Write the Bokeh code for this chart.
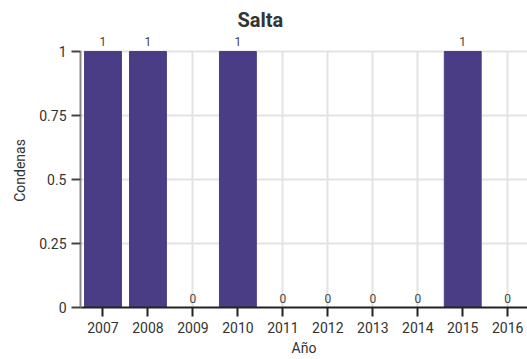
from bokeh.plotting import figure
from bokeh.models import Range1d, FixedTicker, ColumnDataSource, LabelSet
from bokeh.core.properties import value
from bokeh.embed import file_html
from bokeh.resources import INLINE

years = [2007, 2008, 2009, 2010, 2011, 2012, 2013, 2014, 2015, 2016]
condenas = [1, 1, 0, 1, 0, 0, 0, 0, 1, 0]
y_ticks = [0, 0.25, 0.5, 0.75, 1]
y_tick_labels = {0: "0", 0.25: "0.25", 0.5: "0.5", 0.75: "0.75", 1: "1"}

src = ColumnDataSource(dict(x=years, y=condenas, lab=[str(v) for v in condenas]))

p = figure(width=527, height=359, output_backend="svg", toolbar_location=None,
           x_range=Range1d(2006.5, 2016.44), y_range=Range1d(0, 1.0703),
           min_border_left=80, min_border_right=0, min_border_top=33, min_border_bottom=52,
           outline_line_color=None)

p.title.text = "Salta"
p.title.align = "left"
p.title.offset = 157
p.title.text_font = "Roboto"
p.title.text_font_size = "20px"
p.title.text_font_style = "bold"
p.title.text_color = "#333333"
p.title.standoff = 4

p.vbar(x="x", top="y", width=0.82, bottom=0, source=src, color="#4b3c86")

labels = LabelSet(x="x", y="y", text="lab", source=src, text_align="center",
                  text_baseline="bottom", y_offset=5, text_font=value("Roboto"),
                  text_font_size=value("12px"), text_color=value("#444444"))
p.add_layout(labels)

p.xaxis.ticker = FixedTicker(ticks=years)
p.yaxis.ticker = FixedTicker(ticks=y_ticks)
p.yaxis.major_label_overrides = y_tick_labels
p.yaxis.bounds = (0, 1)
p.xaxis.axis_label = "Año"
p.yaxis.axis_label = "Condenas"
for ax in (p.xaxis, p.yaxis):
    ax.axis_label_text_font = "Roboto"
    ax.axis_label_text_font_style = "normal"
    ax.axis_label_text_font_size = "14px"
    ax.axis_label_text_color = "#333333"
    ax.major_label_text_font = "Roboto"
    ax.major_label_text_font_size = "14px"
    ax.major_label_text_color = "#333333"
    ax.minor_tick_line_color = None
    ax.major_tick_out = 9
    ax.major_tick_in = 0
    ax.major_tick_line_width = 2
    ax.axis_line_width = 2
p.xaxis.axis_line_color = "#222222"
p.xaxis.major_tick_line_color = "#222222"
p.yaxis.axis_line_color = "#888888"
p.yaxis.major_tick_line_color = "#444444"
p.xaxis.axis_label_standoff = 4
p.yaxis.axis_label_standoff = 8

p.xgrid.ticker = FixedTicker(ticks=years)
p.ygrid.ticker = FixedTicker(ticks=y_ticks)
xg = p.xgrid[0]
if "cross_bounds" in xg.properties():
    xg.cross_bounds = (0, 1)
p.grid.grid_line_color = "#e3e3e3"
p.grid.grid_line_width = 2
p.grid.level = "underlay"

open("out.html", "w").write(file_html(p, INLINE))
